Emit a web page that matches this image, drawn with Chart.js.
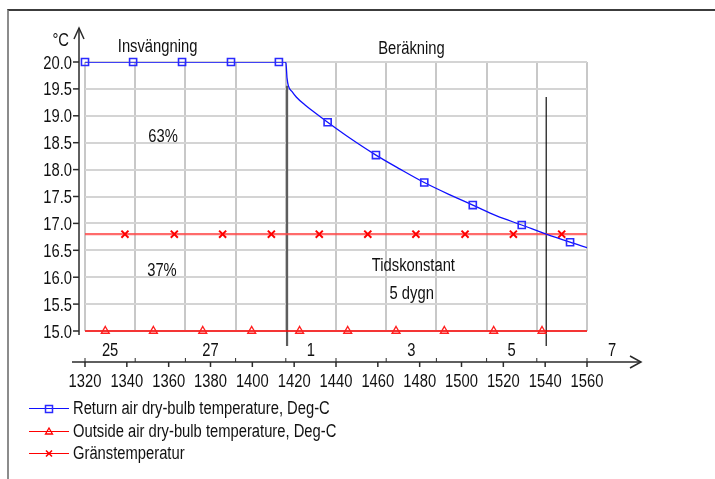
<!DOCTYPE html>
<html>
<head>
<meta charset="utf-8">
<script src="https://cdn.jsdelivr.net/npm/chart.js@4.4.1/dist/chart.umd.min.js"></script>
<style>
html, body { margin: 0; padding: 0; background: #fff; }
#wrap { position: relative; width: 715px; height: 479px; overflow: hidden; }
#frame { position: absolute; left: 7px; top: 9px; width: 720px; height: 480px;
         border-top: 2px solid #3c3c3c; border-left: 2px solid #8c8c8c; }
#chart { position: absolute; left: 0; top: 0; }
#legend { position: absolute; left: 0; top: 0; color: #111;
          font: 18px 'Liberation Sans', Arial, sans-serif; }
.row { position: absolute; left: 29px; height: 22px; display: flex; align-items: center; white-space: nowrap; }
.row svg { margin-right: 4px; }
.row span { display: inline-block; transform: scaleX(0.82); transform-origin: left center; }
</style>
</head>
<body>
<div id="wrap">
    <div id="frame"></div>
    <canvas id="chart" width="715" height="479"></canvas>
    <div id="legend"></div>
</div>
<script>
// Timmar (x) och temperaturer (y)
const returnHours = [1320, 1416, 1416.6, 1417.2, 1419, 1421, 1425.2, 1429.5, 1436, 1445, 1459.1, 1470.6, 1482.2, 1494.5, 1505.4, 1516.8, 1528.8, 1540.5, 1551.9, 1560];
const returnTemps = [20.0, 20.0, 19.70, 19.56, 19.45, 19.35, 19.20, 19.07, 18.88, 18.63, 18.27, 18.01, 17.76, 17.53, 17.34, 17.14, 16.97, 16.80, 16.65, 16.55];
const returnMarkHours = [1320, 1343, 1366.4, 1389.8, 1412.7, 1436, 1459.1, 1482.2, 1505.4, 1528.8, 1551.9];
const returnMarkTemps = [20.0, 20.0, 20.0, 20.0, 20.0, 18.88, 18.27, 17.76, 17.34, 16.97, 16.65];

const outsideHours = [1320, 1560];
const outsideTemps = [15.0, 15.0];
const outsideMarkHours = [1329.7, 1352.7, 1376.3, 1399.7, 1422.6, 1445.6, 1468.7, 1491.8, 1515.4, 1538.5];
const outsideMarkTemps = [15.0, 15.0, 15.0, 15.0, 15.0, 15.0, 15.0, 15.0, 15.0, 15.0];

const limitHours = [1320, 1560];
const limitTemps = [16.8, 16.8];
const limitMarkHours = [1339.1, 1362.7, 1385.8, 1409.1, 1432, 1455.2, 1478.2, 1501.7, 1524.8, 1547.9];
const limitMarkTemps = [16.8, 16.8, 16.8, 16.8, 16.8, 16.8, 16.8, 16.8, 16.8, 16.8];

// Lodräta markeringslinjer (start beräkning, tidskonstant)
const startLineHours = [1416.6, 1416.6];
const startLineTemps = [19.56, 14.72];
const tauLineHours = [1540.5, 1540.5];
const tauLineTemps = [19.35, 14.72];

// Dagnummer under diagrammet (mitt i dygnet)
const dayLabels = ['25', '27', '1', '3', '5', '7'];
const dayHours = [1332, 1380, 1428, 1476, 1524, 1572];

const seriesNames = [
    'Return air dry-bulb temperature, Deg-C',
    'Outside air dry-bulb temperature, Deg-C',
    'Gränstemperatur'
];

const notes = [
    { text: 'Insvängning', x: 1354.7, y: 20.195 },
    { text: 'Beräkning', x: 1476.1, y: 20.15 },
    { text: '63%', x: 1357.3, y: 18.52 },
    { text: '37%', x: 1356.8, y: 16.03 },
    { text: 'Tidskonstant', x: 1477, y: 16.12 },
    { text: '5 dygn', x: 1476.2, y: 15.59 }
];

const FONT = "18px 'Liberation Sans', Arial, sans-serif";

const pts = (xs, ys) => xs.map((h, i) => ({ x: h, y: ys[i] }));

// smal text (Arial Narrow-liknande)
function narrowText(ctx, s, x, y, align) {
    ctx.save();
    ctx.translate(x, y);
    ctx.scale(0.82, 1);
    ctx.textAlign = align;
    ctx.fillText(s, 0, 0);
    ctx.restore();
}

function arrowHead(ctx, x, y, dir) {
    ctx.beginPath();
    if (dir === 'up') {
        ctx.moveTo(x - 5, y + 11); ctx.lineTo(x, y); ctx.lineTo(x + 5, y + 11);
    } else {
        ctx.moveTo(x - 11, y - 6); ctx.lineTo(x, y); ctx.lineTo(x - 11, y + 6);
    }
    ctx.stroke();
}

const axesPlugin = {
    id: 'axesPlugin',
    afterDraw(chart) {
        const { ctx, chartArea: a, scales } = chart;
        const x = scales.x, x2 = scales.x2, y = scales.y;
        ctx.save();
        ctx.strokeStyle = '#2a2a2a';
        ctx.lineWidth = 1.5;

        // y-axel med pil
        const ax = a.left - 6;
        ctx.beginPath();
        ctx.moveTo(ax, a.bottom + 4);
        ctx.lineTo(ax, a.top - 34);
        ctx.stroke();
        arrowHead(ctx, ax, a.top - 34, 'up');
        y.ticks.forEach(t => {
            const py = y.getPixelForValue(t.value);
            ctx.beginPath();
            ctx.moveTo(ax - 6, py);
            ctx.lineTo(ax, py);
            ctx.stroke();
        });

        // x-axel med pil
        const ay = a.bottom + 31;
        ctx.beginPath();
        ctx.moveTo(a.left - 13, ay);
        ctx.lineTo(a.right + 54, ay);
        ctx.stroke();
        arrowHead(ctx, a.right + 54, ay, 'right');
        x.ticks.forEach(t => {
            const px = x.getPixelForValue(t.value);
            ctx.beginPath();
            ctx.moveTo(px, ay);
            ctx.lineTo(px, ay + 5);
            ctx.stroke();
        });
        ctx.lineWidth = 1;
        x2.ticks.forEach(t => {
            const px = x2.getPixelForValue(t.value);
            ctx.beginPath();
            ctx.moveTo(px, ay - 4);
            ctx.lineTo(px, ay);
            ctx.stroke();
        });

        // texter
        ctx.fillStyle = '#111';
        ctx.font = FONT;
        ctx.textBaseline = 'alphabetic';
        y.ticks.forEach(t => {
            narrowText(ctx, t.value.toFixed(1), a.left - 13, y.getPixelForValue(t.value) + 6.5, 'right');
        });
        x.ticks.forEach(t => {
            narrowText(ctx, String(t.value), x.getPixelForValue(t.value), a.bottom + 56, 'center');
        });
        dayLabels.forEach((d, i) => {
            narrowText(ctx, d, x.getPixelForValue(dayHours[i]), a.bottom + 25, 'center');
        });
        notes.forEach(n => {
            narrowText(ctx, n.text, x.getPixelForValue(n.x), y.getPixelForValue(n.y), 'center');
        });
        narrowText(ctx, '°C', a.left - 16, a.top - 16, 'right');
        ctx.restore();
    }
};

new Chart(document.getElementById('chart'), {
    type: 'line',
    data: {
        datasets: [
            {
                label: seriesNames[0],
                data: pts(returnHours, returnTemps),
                borderColor: '#1010ff',
                borderWidth: 1.3,
                pointRadius: 0,
                cubicInterpolationMode: 'monotone',
                order: 1
            },
            {
                data: pts(returnMarkHours, returnMarkTemps),
                showLine: false,
                pointStyle: 'rect',
                pointRadius: 5,
                pointBorderWidth: 1.6,
                borderColor: '#2a2aff',
                backgroundColor: 'rgba(0,0,0,0)',
                clip: false,
                order: 0
            },
            {
                label: seriesNames[1],
                data: pts(outsideHours, outsideTemps),
                borderColor: '#ff0000',
                borderWidth: 1.5,
                pointRadius: 0,
                clip: false,
                order: 3
            },
            {
                data: pts(outsideMarkHours, outsideMarkTemps),
                showLine: false,
                pointStyle: 'triangle',
                pointRadius: 4.5,
                pointBorderWidth: 1.4,
                borderColor: '#ff2020',
                backgroundColor: 'rgba(0,0,0,0)',
                clip: false,
                order: 2
            },
            {
                label: seriesNames[2],
                data: pts(limitHours, limitTemps),
                borderColor: 'rgba(255, 70, 70, 0.8)',
                borderWidth: 2.2,
                pointRadius: 0,
                order: 5
            },
            {
                data: pts(limitMarkHours, limitMarkTemps),
                showLine: false,
                pointStyle: 'crossRot',
                pointRadius: 5,
                pointBorderWidth: 2,
                borderColor: '#ff0000',
                clip: false,
                order: 4
            },
            {
                data: pts(startLineHours, startLineTemps),
                borderColor: '#5e5e5e',
                borderWidth: 2.2,
                pointRadius: 0,
                clip: false,
                order: 6
            },
            {
                data: pts(tauLineHours, tauLineTemps),
                borderColor: '#111',
                borderWidth: 1.2,
                pointRadius: 0,
                clip: false,
                order: 6
            }
        ]
    },
    options: {
        responsive: false,
        animation: false,
        events: [],
        layout: { padding: { left: 0, right: 128, top: 62, bottom: 0 } },
        plugins: { legend: { display: false }, tooltip: { enabled: false } },
        scales: {
            x: {
                type: 'linear',
                position: 'bottom',
                min: 1320,
                max: 1560,
                grid: { display: false, drawTicks: false },
                border: { display: false },
                ticks: { stepSize: 20, autoSkip: false, display: false },
                afterFit(scale) { scale.height = 148; }
            },
            x2: {
                type: 'linear',
                position: 'bottom',
                min: 1320,
                max: 1560,
                grid: { color: '#c8c8c8', lineWidth: 2, drawTicks: false },
                border: { display: false },
                ticks: { stepSize: 24, display: false },
                afterFit(scale) { scale.height = 0; }
            },
            y: {
                min: 15,
                max: 20,
                grid: { color: '#d4d4d4', lineWidth: 2, drawTicks: false },
                border: { display: false },
                ticks: { stepSize: 0.5, display: false },
                afterFit(scale) { scale.width = 85; }
            }
        }
    },
    plugins: [axesPlugin]
});

// Förklaring under diagrammet
const legendStyles = [
    { color: '#1010ff', marker: '<rect x="16.5" y="3.5" width="7" height="7" fill="none" stroke="#2a2aff" stroke-width="1.5"/>' },
    { color: '#ff0000', marker: '<polygon points="20,3 23.5,9 16.5,9" fill="none" stroke="#ff0000" stroke-width="1.3"/>' },
    { color: '#ff0000', marker: '<path d="M17,3.5 L23,9.5 M23,3.5 L17,9.5" stroke="#ff0000" stroke-width="1.6"/>' }
];
const legendTops = [397, 420, 442];
const legend = document.getElementById('legend');
seriesNames.forEach((name, i) => {
    const row = document.createElement('div');
    row.className = 'row';
    row.style.top = legendTops[i] + 'px';
    row.innerHTML = '<svg width="40" height="13"><line x1="0" y1="6.5" x2="40" y2="6.5" stroke="' +
        legendStyles[i].color + '" stroke-width="1.2"/>' + legendStyles[i].marker + '</svg><span>' + name + '</span>';
    legend.appendChild(row);
});
</script>
</body>
</html>
